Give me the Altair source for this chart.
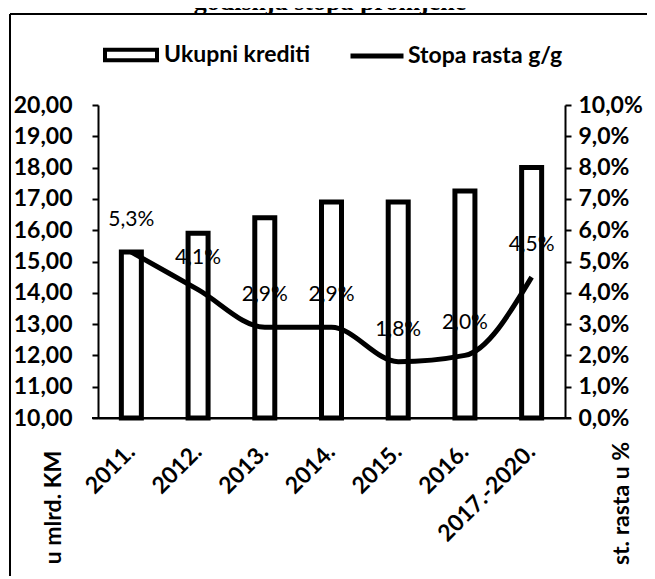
import altair as alt
import pandas as pd

# ---- data ----
categories = ["2011.", "2012.", "2013.", "2014.", "2015.", "2016.", "2017.-2020."]
credits = [15.3, 15.9, 16.4, 16.9, 16.9, 17.25, 18.0]      # u mlrd. KM
growth = [5.3, 4.1, 2.9, 2.9, 1.8, 2.0, 4.5]               # st. rasta u %
left_ticks = list(range(10, 21))
right_ticks = list(range(0, 11))

FONT = "Lato"

df = pd.DataFrame({"period": categories, "credits": credits, "growth": growth})
df["bar_series"] = "Ukupni krediti"
df["line_series"] = "Stopa rasta g/g"

x = alt.X(
    "period:N",
    sort=categories,
    scale=alt.Scale(paddingInner=0, paddingOuter=0),
    axis=alt.Axis(
        title=None, labelAngle=-45, labelAlign="right", labelBaseline="middle",
        labelFont=FONT, labelFontSize=23, labelFontWeight="bold", labelColor="black",
        ticks=False, labelPadding=30, domainColor="black", domainWidth=2,
    ),
)

left_axis = alt.Axis(
    orient="left", values=left_ticks, grid=False,
    labelExpr="replace(format(datum.value, '.2f'), '.', ',')",
    labelFont=FONT, labelFontSize=23, labelFontWeight="bold", labelColor="black",
    labelPadding=20, tickSize=6, tickWidth=2, tickColor="black",
    domainColor="black", domainWidth=2,
    title="u mlrd. KM", titleFont=FONT, titleFontSize=23, titleFontWeight="bold",
    titleColor="black", titleAngle=270, titleX=-45, titleY=402,
    titleAlign="center", titleBaseline="middle",
)

right_axis = alt.Axis(
    orient="right", values=right_ticks, grid=False,
    labelExpr="replace(format(datum.value, '.1f'), '.', ',') + '%'",
    labelFont=FONT, labelFontSize=23, labelFontWeight="bold", labelColor="black",
    labelPadding=7, tickSize=6, tickWidth=2, tickColor="black",
    domainColor="black", domainWidth=2,
    title="st. rasta u %", titleFont=FONT, titleFontSize=23, titleFontWeight="bold",
    titleColor="black", titleAngle=270, titleX=56, titleY=398,
    titleAlign="center", titleBaseline="middle",
)

left_scale = alt.Scale(domain=[10, 20], nice=False, zero=False)
right_scale = alt.Scale(domain=[0, 10], nice=False, zero=False)

bars = alt.Chart(df).mark_bar(size=20, stroke="black", strokeWidth=5).encode(
    x=x,
    y=alt.Y("credits:Q", scale=left_scale, axis=left_axis),
    y2=alt.Y2(datum=10),
    fill=alt.Fill(
        "bar_series:N",
        scale=alt.Scale(range=["white"]),
        legend=alt.Legend(
            orient="none", legendX=5, legendY=-78, title=None, padding=0,
            symbolType="M-1,-0.2H1V0.2H-1Z", symbolSize=2704,
            symbolStrokeColor="black", symbolStrokeWidth=4, symbolFillColor="white",
            labelFont=FONT, labelFontSize=23, labelFontWeight="bold",
            labelColor="black", labelOffset=5,
        ),
    ),
)

line = alt.Chart(df).mark_line(strokeWidth=5, interpolate="monotone").encode(
    x=x,
    y=alt.Y("growth:Q", scale=right_scale, axis=right_axis),
    stroke=alt.Stroke(
        "line_series:N",
        scale=alt.Scale(range=["black"]),
        legend=alt.Legend(
            orient="none", legendX=250, legendY=-78, title=None, padding=0,
            symbolType="stroke", symbolSize=2809, symbolStrokeWidth=5,
            symbolStrokeColor="black",
            labelFont=FONT, labelFontSize=23, labelFontWeight="bold",
            labelColor="black", labelOffset=2,
        ),
    ),
)

labels = alt.Chart(df).transform_calculate(
    label="replace(format(datum.growth, '.1f'), '.', ',') + '%'"
).mark_text(dy=-32, font=FONT, fontSize=21, color="black").encode(
    x=x,
    y=alt.Y("growth:Q", scale=right_scale, axis=right_axis),
    text="label:N",
)

decor_df = pd.DataFrame({"k": [0]})
frame_top = alt.Chart(decor_df).mark_rule(color="black", strokeWidth=2).encode(
    x=alt.value(-88), x2=alt.value(600), y=alt.value(-91)
)
frame_left = alt.Chart(decor_df).mark_rule(color="black", strokeWidth=2).encode(
    x=alt.value(-88), y=alt.value(-91), y2=alt.value(500)
)
axis_ext = alt.Chart(decor_df).mark_rule(color="black", strokeWidth=2).encode(
    x=alt.value(-6), x2=alt.value(473), y=alt.value(313)
)
title = alt.Chart(decor_df).mark_text(
    text="godišnja stopa promjene", font="Liberation Serif", fontWeight="bold",
    fontSize=26, align="center", baseline="alphabetic", color="black",
).encode(x=alt.value(232), y=alt.value(-95))

chart = alt.layer(
    frame_top, frame_left, axis_ext, title, bars, alt.layer(line, labels)
).resolve_scale(y="independent").properties(
    width=467, height=313,
    autosize=alt.AutoSizeParams(type="none"),
    padding={"left": 90, "top": 97, "right": 82, "bottom": 158},
).configure_view(stroke=None)

chart.save("out.html", embed_options={"renderer": "svg", "actions": False})
